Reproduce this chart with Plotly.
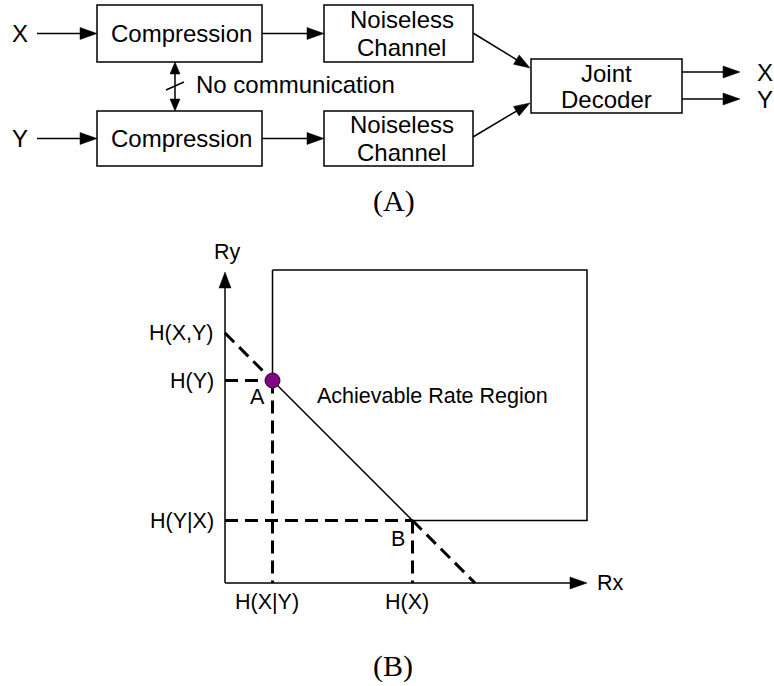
import math
import plotly.graph_objects as go

W, H = 774, 686

# ---------------- (A) block diagram content ----------------
sources = ["X", "Y"]
sinks = ["X", "Y"]
encoder_label = "Compression"
channel_label = ["Noiseless", "Channel"]
decoder_label = ["Joint", "Decoder"]
link_label = "No communication"
panel_labels = ["(A)", "(B)"]

# ---------------- (B) Slepian-Wolf rate region ----------------
H_X_given_Y = 0.95
H_X = 3.75
H_Y_given_X = 1.25
H_Y = 4.05
H_XY = 5.0
region_top = 6.26
region_right = 7.24
axis_len_x = 7.24
axis_len_y = 6.22
x_tick_labels = ["H(X|Y)", "H(X)"]
y_tick_labels = ["H(Y|X)", "H(Y)", "H(X,Y)"]
corner_labels = ["A", "B"]
region_label = "Achievable Rate Region"
axis_labels = ["Rx", "Ry"]

# ---------------- coordinate systems ----------------
PX = 50.0           # pixels per rate unit in panel B
OX, OY = 225.0, 583.0  # pixel position of panel B origin

def top_to_px(x, y):
    return x, y

def top_from_px(x, y):
    return x, y

def bot_to_px(u, v):
    return OX + PX * u, OY - PX * v

def bot_from_px(x, y):
    return (x - OX) / PX, (OY - y) / PX

TOP = (top_to_px, top_from_px, "x", "y")
BOT = (bot_to_px, bot_from_px, "x2", "y2")

shapes = []
annotations = []
SANS = "Liberation Sans, Arial, sans-serif"
SERIF = "Liberation Serif, Times New Roman, serif"


def add_line(sysm, p0, p1, lw=1.5, dash=None):
    _, _, xr, yr = sysm
    line = dict(color="black", width=lw)
    if dash:
        line["dash"] = dash
    shapes.append(dict(type="line", xref=xr, yref=yr, x0=p0[0], y0=p0[1],
                       x1=p1[0], y1=p1[1], line=line, layer="above"))


def add_arrow(sysm, p0, p1, head_len=16, head_w=11, lw=1.5, double=False):
    to_px, from_px, xr, yr = sysm
    ax, ay = to_px(*p0)
    bx, by = to_px(*p1)
    dx, dy = bx - ax, by - ay
    L = math.hypot(dx, dy)
    ux, uy = dx / L, dy / L
    nx, ny = -uy, ux

    def head(tx, ty, ux, uy):
        b1 = (tx - ux * head_len + nx * head_w / 2, ty - uy * head_len + ny * head_w / 2)
        b2 = (tx - ux * head_len - nx * head_w / 2, ty - uy * head_len - ny * head_w / 2)
        pts = [from_px(tx, ty), from_px(*b1), from_px(*b2)]
        path = "M {},{} L {},{} L {},{} Z".format(pts[0][0], pts[0][1], pts[1][0], pts[1][1],
                                                  pts[2][0], pts[2][1])
        shapes.append(dict(type="path", xref=xr, yref=yr, path=path,
                           fillcolor="black", line=dict(color="black", width=0.5), layer="above"))

    s = (ax + ux * head_len * 0.8, ay + uy * head_len * 0.8) if double else (ax, ay)
    e = (bx - ux * head_len * 0.8, by - uy * head_len * 0.8)
    add_line(sysm, from_px(*s), from_px(*e), lw=lw)
    head(bx, by, ux, uy)
    if double:
        head(ax, ay, -ux, -uy)


def add_box(x0, y0, x1, y1):
    shapes.append(dict(type="rect", xref="x", yref="y", x0=x0, y0=y0, x1=x1, y1=y1,
                       line=dict(color="black", width=1.5), fillcolor="white", layer="above"))


def add_text(sysm, x, y, text, size, font=SANS, xanchor="center", yanchor="middle", xshift=0, yshift=0):
    _, _, xr, yr = sysm
    annotations.append(dict(xref=xr, yref=yr, x=x, y=y, text=text, showarrow=False,
                            xanchor=xanchor, yanchor=yanchor, xshift=xshift, yshift=yshift,
                            font=dict(family=font, size=size, color="black")))


# ---------------- panel A ----------------
rows_y = [33.5, 138.5]
box_h = [(5, 62), (111, 166)]
ENC = (97, 262)
CH = (324, 473)
DEC = (531, 682, 59, 113)
FS_A = 24

for i, (src, (ya, yb)) in enumerate(zip(sources, box_h)):
    yc = rows_y[i]
    add_text(TOP, 20, yc, src, FS_A)
    add_arrow(TOP, (37, yc), (ENC[0], yc), head_len=17, head_w=12)
    add_box(ENC[0], ya, ENC[1], yb)
    add_text(TOP, (ENC[0] + ENC[1]) / 2 + 2, yc, encoder_label, FS_A)
    add_arrow(TOP, (ENC[1], yc), (CH[0], yc), head_len=17, head_w=12)
    add_box(CH[0], ya, CH[1], yb)
    add_text(TOP, (CH[0] + CH[1]) / 2 + 3, yc - 14.5, channel_label[0], FS_A)
    add_text(TOP, (CH[0] + CH[1]) / 2 + 3, yc + 13.5, channel_label[1], FS_A)

# channel -> decoder
add_arrow(TOP, (CH[1], 33), (DEC[0] - 1, 68), head_len=16, head_w=11)
add_arrow(TOP, (CH[1], 137), (DEC[0] - 1, 103), head_len=16, head_w=11)
shapes.append(dict(type="rect", xref="x", yref="y", x0=DEC[0], y0=DEC[2], x1=DEC[1], y1=DEC[3],
                   line=dict(color="black", width=1.5), fillcolor="white", layer="above"))
dxc = (DEC[0] + DEC[1]) / 2
add_text(TOP, dxc, 73, decoder_label[0], FS_A)
add_text(TOP, dxc, 99, decoder_label[1], FS_A)

# outputs
for yc, lab in zip([72, 99], sinks):
    add_arrow(TOP, (DEC[1], yc), (740, yc), head_len=17, head_w=12)
    add_text(TOP, 765, yc, lab, FS_A)

# no communication link
add_arrow(TOP, (175, 62), (175, 111), head_len=12, head_w=10, double=True)
add_line(TOP, (166, 90), (184, 82), lw=1.5)
add_text(TOP, 194, 84, link_label, FS_A, xanchor="left")

add_text(TOP, 394, 201, panel_labels[0], 30, font=SERIF)

# ---------------- panel B ----------------
DASH = "13px,7px"
dash_w = 3
traces = []

def seg(p0, p1, dash=None, width=1.5):
    traces.append(go.Scatter(x=[p0[0], p1[0]], y=[p0[1], p1[1]], xaxis="x2", yaxis="y2",
                             mode="lines", hoverinfo="skip", showlegend=False,
                             line=dict(color="black", width=width, dash=dash)))

# dashed guides
seg((0, H_Y), (H_X_given_Y, H_Y), DASH, dash_w)
seg((H_X_given_Y, H_Y), (H_X_given_Y, 0), DASH, dash_w)
seg((0, H_Y_given_X), (H_X, H_Y_given_X), DASH, dash_w)
seg((H_X, H_Y_given_X), (H_X, 0), DASH, dash_w)
seg((0, H_XY), (H_X_given_Y, H_Y), DASH, dash_w)
seg((H_X, H_Y_given_X), (H_XY, 0), DASH, dash_w)

# achievable rate region boundary
traces.append(go.Scatter(
    x=[H_X_given_Y, H_X_given_Y, H_X, region_right, region_right, H_X_given_Y],
    y=[region_top, H_Y, H_Y_given_X, H_Y_given_X, region_top, region_top],
    xaxis="x2", yaxis="y2", mode="lines", hoverinfo="skip", showlegend=False,
    line=dict(color="black", width=1.5)))

# corner point A
traces.append(go.Scatter(x=[H_X_given_Y], y=[H_Y], xaxis="x2", yaxis="y2", mode="markers",
                         hoverinfo="skip", showlegend=False,
                         marker=dict(size=15, color="#800080", line=dict(color="#3a003a", width=1))))

# axes with arrows
add_arrow(BOT, (0, 0), (0, axis_len_y), head_len=16, head_w=12)
add_arrow(BOT, (0, 0), (axis_len_x, 0), head_len=17, head_w=12)

FS_B = 21.5
add_text(BOT, 0, axis_len_y, axis_labels[1], FS_B, yshift=20, xshift=2)
add_text(BOT, axis_len_x, 0, axis_labels[0], FS_B, xshift=23)

for val, lab in zip([H_Y_given_X, H_Y, H_XY], y_tick_labels):
    add_text(BOT, 0, val, lab, FS_B, xanchor="right", xshift=-9)
for val, lab in zip([H_X_given_Y, H_X], x_tick_labels):
    add_text(BOT, val, 0, lab, FS_B, yshift=-19, xshift=-6)

add_text(BOT, H_X_given_Y, H_Y, corner_labels[0], FS_B, xshift=-15, yshift=-16)
add_text(BOT, H_X, H_Y_given_X, corner_labels[1], FS_B, xshift=-15, yshift=-18)
add_text(BOT, 4.15, 3.74, region_label, FS_B)

add_text(TOP, 393, 666, panel_labels[1], 30, font=SERIF)

fig = go.Figure(data=traces)
fig.update_layout(
    width=W, height=H, autosize=False,
    margin=dict(l=0, r=0, t=0, b=0, pad=0),
    paper_bgcolor="white", plot_bgcolor="rgba(0,0,0,0)",
    showlegend=False,
    xaxis=dict(range=[0, W], visible=False, domain=[0, 1], fixedrange=True),
    yaxis=dict(range=[H, 0], visible=False, domain=[0, 1], fixedrange=True),
    xaxis2=dict(range=[-OX / PX, (W - OX) / PX], visible=False, overlaying="x",
                anchor="y2", fixedrange=True),
    yaxis2=dict(range=[(OY - H) / PX, OY / PX], visible=False, overlaying="y",
                anchor="x2", fixedrange=True),
    shapes=shapes,
    annotations=annotations,
)
fig.write_html("out.html")
